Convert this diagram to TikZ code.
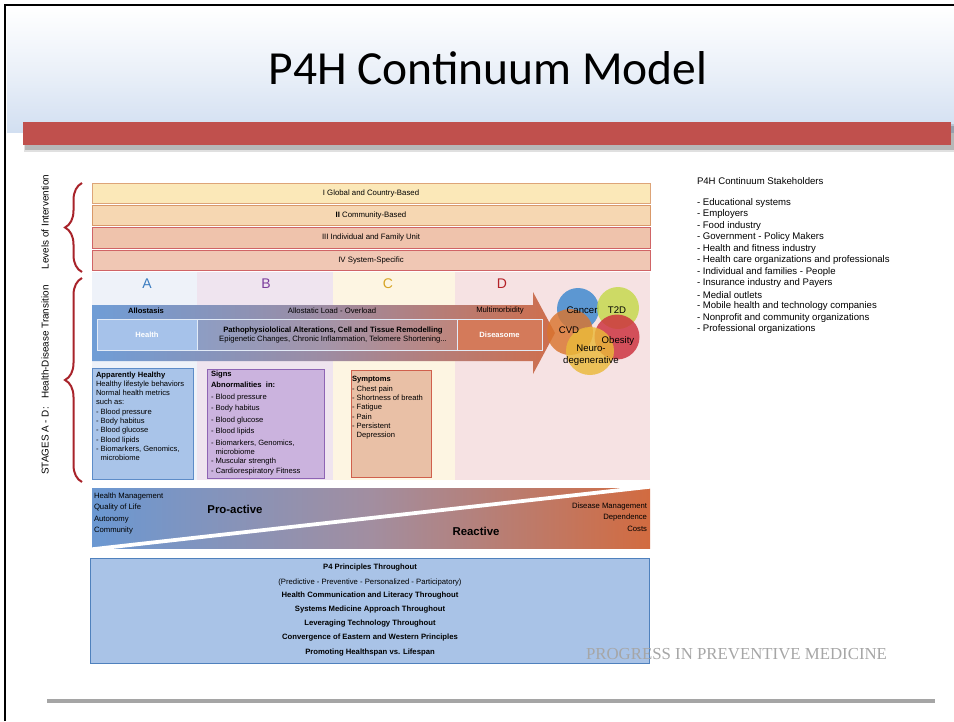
\documentclass[tikz,border=0pt]{standalone}
\usepackage{fontspec}
\setmainfont{Liberation Sans}
\newfontfamily\titlefont{Carlito}
\newfontfamily\markfont{Liberation Serif}
\usetikzlibrary{decorations.pathreplacing}

\newcommand\setfs[2]{\fontsize{#1}{#2}\selectfont}

% palette
\definecolor{headblue}{HTML}{D2DFF1}
\definecolor{barred}{HTML}{C0504D}
\definecolor{bracered}{HTML}{A8232A}
\definecolor{lvlIf}{HTML}{FBE8B8}\definecolor{lvlId}{HTML}{DDA478}
\definecolor{lvlIIf}{HTML}{F6D7B2}\definecolor{lvlIId}{HTML}{D99868}
\definecolor{lvlIIIf}{HTML}{EFC3AC}\definecolor{lvlIIId}{HTML}{D06466}
\definecolor{lvlIVf}{HTML}{F0C7B4}\definecolor{lvlIVd}{HTML}{D06466}
\definecolor{colA}{HTML}{EEF2F9}\definecolor{colB}{HTML}{EFE4EF}
\definecolor{colC}{HTML}{FDF5E2}\definecolor{colD}{HTML}{F6E2E3}
\definecolor{letA}{HTML}{3A7CC0}\definecolor{letB}{HTML}{7B3C9C}
\definecolor{letC}{HTML}{D6A424}\definecolor{letD}{HTML}{B42228}
\definecolor{arL}{HTML}{6F9DD6}\definecolor{arM}{HTML}{9D8CA3}\definecolor{arR}{HTML}{CF6E4C}
\definecolor{wdL}{HTML}{6B98D2}\definecolor{wdM}{HTML}{A28EA0}\definecolor{wdR}{HTML}{D26B40}
\definecolor{healthf}{HTML}{A6C2EA}\definecolor{diseasef}{HTML}{D47A5A}
\definecolor{ahf}{HTML}{A9C4E9}\definecolor{ahd}{HTML}{5D8CC8}
\definecolor{sgf}{HTML}{CBB3DE}\definecolor{sgd}{HTML}{8E64B4}
\definecolor{syf}{HTML}{E9C0A6}\definecolor{syd}{HTML}{D0604C}
\definecolor{p4f}{HTML}{A9C3E7}\definecolor{p4d}{HTML}{4F81BD}
\definecolor{cCancer}{HTML}{3B87CF}\definecolor{cT2D}{HTML}{C5D94A}
\definecolor{cCVD}{HTML}{D9752F}\definecolor{cObes}{HTML}{CC2F3D}
\definecolor{cNeuro}{HTML}{EAB93A}
\definecolor{markgray}{HTML}{A6A6A6}
\definecolor{rulegray}{HTML}{A5A5A5}

\pgfdeclarehorizontalshading{arrowgrad}{100bp}{color(0bp)=(arL); color(25bp)=(arL); color(50bp)=(arM); color(75bp)=(arR); color(100bp)=(arR)}
\pgfdeclarehorizontalshading{wedgegrad}{100bp}{color(0bp)=(wdL); color(25bp)=(wdL); color(50bp)=(wdM); color(75bp)=(wdR); color(100bp)=(wdR)}

\tikzset{
  every node/.style={inner sep=0pt, outer sep=0pt},
  lvl/.style={draw, line width=.8pt, minimum width=558pt, minimum height=20.5pt,
    anchor=north west, font=\setfs{7.8}{9}},
  stageletter/.style={font=\setfs{14}{16}},
  arrowtxt/.style={font=\setfs{7.7}{9}},
  innerbox/.style={draw=white!80!arL, line width=.9pt, anchor=north west, minimum height=31pt},
  panel/.style={draw, line width=.8pt, anchor=north west},
  paneltxt/.style={anchor=north west, align=left, font=\setfs{7.6}{9.3}},
  venn/.style={circle, fill opacity=.82},
  vennlbl/.style={font=\setfs{9.6}{10}},
  sidetxt/.style={rotate=90, font=\setfs{9.9}{11}},
  stake/.style={anchor=west, font=\setfs{9.6}{11}},
  p4txt/.style={font=\setfs{7.7}{9}\bfseries},
  brace/.style={draw=bracered, line width=2pt, decorate,
    decoration={brace, amplitude=17pt, aspect=.5}},
}

\begin{document}
\begin{tikzpicture}[x=1pt,y=-1pt]
\useasboundingbox (0,0) rectangle (954,721);
\fill[white] (0,0) rectangle (954,721);

% ---- slide header ----
\shade[top color=white, bottom color=headblue, middle color=white!55!headblue] (7,7) rectangle (954,132);
\fill[black, opacity=.18] (25,126) rectangle (954,150);
\fill[black, opacity=.12] (24,124) rectangle (954,152);
\fill[barred] (23,122) rectangle (951,145);
\draw[line width=2.5pt] (5,721) -- (5,5) -- (954,5);
\node[font=\titlefont\setfs{47.5}{50}] (title) at (488,68) {P4H Continuum Model};

% ---- levels of intervention ----
\node[lvl, fill=lvlIf, draw=lvlId] (lvlI) at (92,183) {I Global and Country-Based};
\node[lvl, fill=lvlIIf, draw=lvlIId] (lvlII) at (92,205) {\textbf{II} Community-Based};
\node[lvl, fill=lvlIIIf, draw=lvlIIId] (lvlIII) at (92,227.5) {III Individual and Family Unit};
\node[lvl, fill=lvlIVf, draw=lvlIVd] (lvlIV) at (92,250) {IV System-Specific};

% ---- stage columns ----
\fill[colA] (92,272) rectangle (197,480);
\fill[colB] (197,272) rectangle (333,480);
\fill[colC] (333,272) rectangle (455,480);
\fill[colD] (455,272) rectangle (650,480);
\node[stageletter, text=letA] (sA) at (147,284) {A};
\node[stageletter, text=letB] (sB) at (266,284) {B};
\node[stageletter, text=letC] (sC) at (388,284) {C};
\node[stageletter, text=letD] (sD) at (502,284) {D};

% ---- transition arrow ----
\shade[shading=arrowgrad] (92,305) -- (533,305) -- (533,292) -- (555,333)
  -- (533,374) -- (533,361) -- (92,361) -- cycle;
\node[arrowtxt, font=\setfs{7.6}{9}\bfseries] (allo) at (146,311) {Allostasis};
\node[arrowtxt] (load) at (332,311) {Allostatic Load - Overload};
\node[arrowtxt] (multi) at (500,311) {Multimorbidity};
\node[innerbox, fill=healthf, minimum width=100pt] (health) at (97,319)
  {\textcolor{white}{\setfs{7.6}{9}\bfseries Health}};
\node[innerbox, fill=white, fill opacity=.08, text opacity=1, minimum width=260pt] (patho) at (197,319) {};
\node[align=center, font=\setfs{7.7}{9.5}] (pathotxt) at (333,335)
  {\textbf{Pathophysiololical Alterations, Cell and Tissue Remodelling}\\
   Epigenetic Changes, Chronic Inflammation, Telomere Shortening...};
\node[innerbox, fill=diseasef, minimum width=85pt] (diseasome) at (457,319)
  {\textcolor{white}{\setfs{7.6}{9}\bfseries Diseasome}};

% ---- diseasome circles ----
\node[venn, fill=cCancer, minimum size=42pt] (cancer) at (578,309) {};
\node[venn, fill=cT2D, minimum size=42pt] (t2d) at (618,308) {};
\node[venn, fill=cCVD, minimum size=46pt] (cvd) at (570,332) {};
\node[venn, fill=cObes, minimum size=45pt] (obesity) at (617,337) {};
\node[venn, fill=cNeuro, minimum size=48pt] (neuro) at (590,351) {};
\node[vennlbl] (lcancer) at (582,310) {Cancer};
\node[vennlbl] (lt2d) at (617,310) {T2D};
\node[vennlbl] (lcvd) at (569,330) {CVD};
\node[vennlbl] (lobes) at (618,341) {Obesity};
\node[vennlbl] (lneuro) at (591,348) {Neuro-};
\node[vennlbl] (ldegen) at (591,361) {degenerative};

% ---- stage panels ----
\node[panel, fill=ahf, draw=ahd, minimum width=101pt, minimum height=111pt] (healthy) at (92,368) {};
\node[paneltxt] (healthytxt) at (96,371.5)
  {\textbf{Apparently Healthy}\\
   Healthy lifestyle behaviors\\
   Normal health metrics\\
   such as:\\
   - Blood pressure\\
   - Body habitus\\
   - Blood glucose\\
   - Blood lipids\\
   - Biomarkers, Genomics,\\
   \hphantom{- }microbiome};

\node[panel, fill=sgf, draw=sgd, minimum width=117pt, minimum height=109pt] (signs) at (207,369) {};
\node[paneltxt] (signstxt) at (211,371)
  {\textbf{Signs}\\[1.6pt]
   \textbf{Abnormalities\ \ in:}\\[2.4pt]
   - Blood pressure\\[2.2pt]
   - Body habitus\\[2.2pt]
   - Blood glucose\\[2.2pt]
   - Blood lipids\\[2.2pt]
   - Biomarkers, Genomics,\\
   \hphantom{- }microbiome\\
   - Muscular strength\\
   - Cardiorespiratory Fitness};

\node[panel, fill=syf, draw=syd, minimum width=80pt, minimum height=107pt] (symptoms) at (351,370) {};
\node[paneltxt, font=\setfs{7.6}{9.3}] (symptomstxt) at (352,376.5)
  {\textbf{Symptoms}\\
   - Chest pain\\
   - Shortness of breath\\
   - Fatigue\\
   - Pain\\
   - Persistent\\
   \hphantom{- }Depression};

% ---- pro-active / reactive wedge ----
\shade[shading=wedgegrad] (92,488) rectangle (650,548);
\draw[white, line width=3.8pt] (90,549.5) -- (652,486.5);
\node[anchor=north west, align=left, font=\setfs{7.7}{11.4}] (proitems) at (94,493)
  {Health Management\\ Quality of Life\\ Autonomy\\ Community};
\node[font=\setfs{11.4}{12}\bfseries] (proactive) at (235,509) {Pro-active};
\node[font=\setfs{11.4}{12}\bfseries] (reactive) at (476,531) {Reactive};
\node[anchor=north east, align=right, font=\setfs{7.7}{11.4}] (reitems) at (647,503)
  {Disease Management\\ Dependence\\ Costs};

% ---- P4 principles ----
\node[panel, fill=p4f, draw=p4d, minimum width=559pt, minimum height=105pt] (p4box) at (90,558) {};
\node[p4txt] (p4a) at (370,568) {P4 Principles Throughout};
\node[p4txt, font=\setfs{7.7}{9}] (p4b) at (370,582) {(Predictive - Preventive - Personalized - Participatory)};
\node[p4txt] (p4c) at (370,596) {Health Communication and Literacy Throughout};
\node[p4txt] (p4d) at (370,610) {Systems Medicine Approach Throughout};
\node[p4txt] (p4e) at (370,624) {Leveraging Technology Throughout};
\node[p4txt] (p4f) at (370,638) {Convergence of Eastern and Western Principles};
\node[p4txt] (p4g) at (370,653) {Promoting Healthspan vs. Lifespan};

% ---- left labels and braces ----
\node[sidetxt] (levelslbl) at (45,222) {Levels of Intervention};
\node[sidetxt] (stageslbl) at (45,380) {STAGES A - D:\ \ \ Health-Disease Transition};
\coordinate (b1top) at (82,183);
\coordinate (b1bot) at (82,272);
\coordinate (b2top) at (82,278);
\coordinate (b2bot) at (82,482);
\path[brace] (b1bot) -- (b1top);
\path[brace] (b2bot) -- (b2top);

% ---- stakeholders ----
\node[stake] (stkhead) at (697,181) {P4H Continuum Stakeholders};
\node[stake] (stk1) at (697,203) {- Educational systems};
\node[stake] (stk2) at (697,214.5) {- Employers};
\node[stake] (stk3) at (697,226) {- Food industry};
\node[stake] (stk4) at (697,237.5) {- Government - Policy Makers};
\node[stake] (stk5) at (697,249) {- Health and fitness industry};
\node[stake] (stk6) at (697,260.5) {- Health care organizations and professionals};
\node[stake] (stk7) at (697,272) {- Individual and families - People};
\node[stake] (stk8) at (697,283.5) {- Insurance industry and Payers};
\node[stake] (stk9) at (697,295) {- Medial outlets};
\node[stake] (stk10) at (697,306.5) {- Mobile health and technology companies};
\node[stake] (stk11) at (697,318) {- Nonprofit and community organizations};
\node[stake] (stk12) at (697,329.5) {- Professional organizations};

% ---- journal mark and footer rule ----
\node[anchor=west, text=markgray, font=\markfont\setfs{16.8}{18}] (journal) at (586,654) {PROGRESS IN PREVENTIVE MEDICINE};
\coordinate (ruleL) at (47,701);
\coordinate (ruleR) at (935,701);
\draw[rulegray, line width=4pt] (ruleL) -- (ruleR);
\end{tikzpicture}
\end{document}
